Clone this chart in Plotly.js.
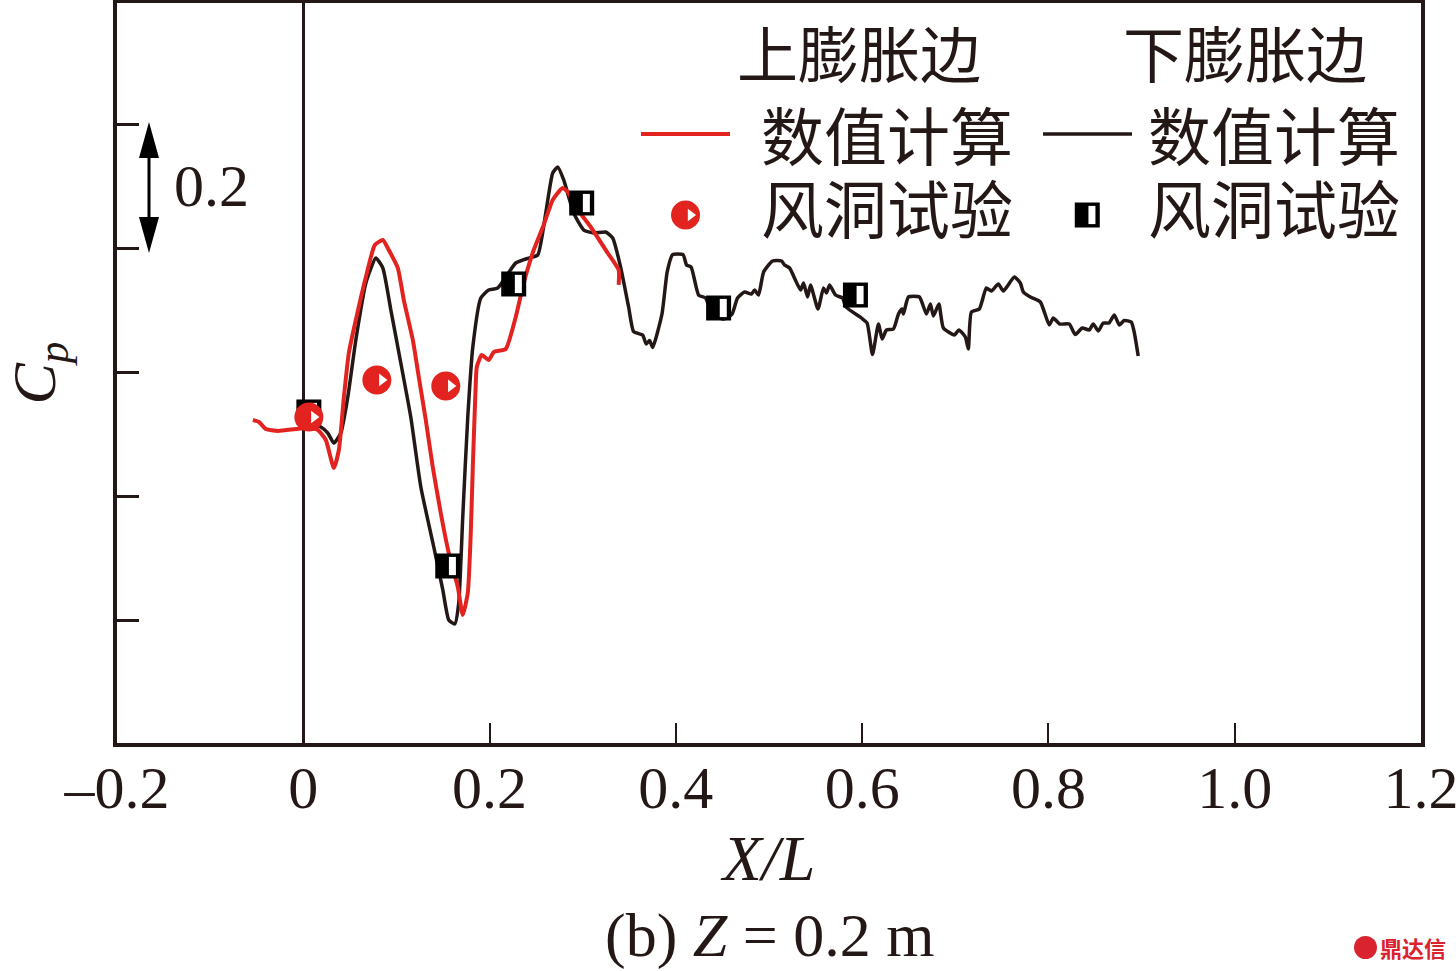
<!DOCTYPE html>
<html><head><meta charset="utf-8">
<script src="https://cdn.plot.ly/plotly-3.0.1.min.js"></script>
<style>html,body{margin:0;padding:0;background:#fff;overflow:hidden}</style>
</head><body><div id="chart" style="width:1456px;height:971px"></div>
<script>
const upperCfdX = [-0.0541,-0.0476,-0.0401,-0.0272,-0.0079,0.0049,0.0157,0.0242,0.0328,0.0382,0.0436,0.0489,0.0564,0.0672,0.0768,0.0854,0.0918,0.1015,0.1079,0.1176,0.1240,0.1315,0.1390,0.1476,0.1562,0.1659,0.1712,0.1766,0.1798,0.1820,0.1852,0.1863,0.1916,0.1991,0.2045,0.2173,0.2281,0.2367,0.2474,0.2581,0.2678,0.2785,0.2850,0.2925,0.3086,0.3268,0.3386,0.3386];
const upperCfdY = [-0.0765,-0.0797,-0.0910,-0.0942,-0.0910,-0.0894,-0.0926,-0.1087,-0.1538,-0.1248,-0.0395,0.0314,0.0846,0.1538,0.2054,0.2134,0.1973,0.1683,0.1168,0.0524,-0.0072,-0.0765,-0.1522,-0.2263,-0.2908,-0.3455,-0.3906,-0.3553,-0.2585,-0.1522,-0.0169,0.0089,0.0282,0.0201,0.0330,0.0379,0.0894,0.1442,0.1973,0.2376,0.2779,0.2972,0.2891,0.2666,0.2344,0.1925,0.1651,0.1410];
const lowerCfdX = [0.0006,0.0103,0.0189,0.0264,0.0328,0.0403,0.0478,0.0564,0.0672,0.0779,0.0854,0.0940,0.1047,0.1154,0.1262,0.1401,0.1498,0.1562,0.1627,0.1669,0.1712,0.1766,0.1820,0.1906,0.1991,0.2088,0.2281,0.2420,0.2517,0.2603,0.2678,0.2732,0.2796,0.2903,0.3011,0.3118,0.3247,0.3322,0.3407,0.3493,0.3547,0.3643,0.3682,0.3718,0.3751,0.3851,0.3907,0.3965,0.4077,0.4115,0.4164,0.4244,0.4319,0.4394,0.4512,0.4603,0.4662,0.4737,0.4812,0.4845,0.4888,0.4942,0.5038,0.5135,0.5167,0.5221,0.5339,0.5371,0.5414,0.5446,0.5526,0.5585,0.5617,0.5650,0.5714,0.5789,0.5826,0.5993,0.6053,0.6111,0.6175,0.6215,0.6261,0.6336,0.6390,0.6428,0.6443,0.6497,0.6615,0.6690,0.6733,0.6765,0.6824,0.6872,0.6990,0.7039,0.7108,0.7140,0.7173,0.7258,0.7333,0.7387,0.7462,0.7516,0.7634,0.7698,0.7731,0.7806,0.7913,0.8009,0.8052,0.8122,0.8224,0.8288,0.8363,0.8438,0.8481,0.8535,0.8589,0.8649,0.8707,0.8761,0.8814,0.8889,0.8921,0.8964];
const lowerCfdY = [-0.0733,-0.0830,-0.0878,-0.0975,-0.1136,-0.0975,-0.0395,0.0524,0.1442,0.1844,0.1683,0.1007,0.0153,-0.0717,-0.1844,-0.2811,-0.3503,-0.3987,-0.4051,-0.3713,-0.2328,-0.0717,0.0411,0.1200,0.1329,0.1361,0.1764,0.1844,0.1893,0.2569,0.3214,0.3311,0.3101,0.2569,0.2295,0.2247,0.2263,0.2167,0.1699,0.1055,0.0657,0.0604,0.0459,0.0515,0.0403,0.0942,0.1619,0.1899,0.1899,0.1732,0.1699,0.1248,0.1200,0.0942,0.0862,0.0942,0.1200,0.1297,0.1264,0.1329,0.1248,0.1619,0.1796,0.1796,0.1732,0.1683,0.1329,0.1442,0.1216,0.1410,0.1023,0.1361,0.1281,0.1410,0.1248,0.1200,0.1055,0.0878,0.0797,0.0290,0.0781,0.0540,0.0685,0.0701,0.0942,0.1023,0.0942,0.1216,0.1216,0.0942,0.1103,0.0910,0.1103,0.0717,0.0604,0.0685,0.0572,0.0379,0.0975,0.1023,0.1361,0.1313,0.1426,0.1313,0.1538,0.1442,0.1297,0.1216,0.1136,0.0765,0.0878,0.0781,0.0781,0.0612,0.0717,0.0685,0.0781,0.0668,0.0797,0.0797,0.0926,0.0765,0.0838,0.0813,0.0652,0.0266];
const upperExpX = [0.006,0.079,0.153];
const upperExpY = [-0.0717,-0.012,-0.0217];
const lowerExpX = [0.006,0.1551,0.2259,0.2989,0.4459,0.5928];
const lowerExpY = [-0.0636,-0.3117,0.1426,0.2730,0.1039,0.1248];
const legendCircleX = [0.4104], legendSquareX = [0.8417], legendKeyY = [0.2537];
const xTickVals = [-0.2,0,0.2,0.4,0.6,0.8,1.0,1.2];
const xTickText = ['\u20130.2','0','0.2','0.4','0.6','0.8','1.0','1.2'];
const yTickVals = [-0.4,-0.2,0,0.2,0.4];

const RED='#e2231f', BLACK='#231815', SERIF='"Liberation Serif", serif', CJK='"Noto Sans CJK SC", sans-serif';
const L=117, W=1304, T=3, B=743;
const fx = p => (p-L)/W, fy = p => (B-p)/(B-T);
const circleX = upperExpX.concat(legendCircleX), circleY = upperExpY.concat(legendKeyY);
const squareX = lowerExpX.concat(legendSquareX), squareY = lowerExpY.concat(legendKeyY);
const shift = (a,d) => a.map(v => v+d);

const traces = [
 {x:lowerCfdX,y:lowerCfdY,mode:'lines',line:{color:BLACK,width:3.5,shape:'spline',smoothing:0.5},name:'下膨胀边 数值计算'},
 {x:upperCfdX,y:upperCfdY,mode:'lines',line:{color:RED,width:4,shape:'spline',smoothing:0.5},name:'上膨胀边 数值计算'},
 {x:squareX,y:squareY,mode:'markers',marker:{symbol:'square',size:25,color:'#000'},name:'下膨胀边 风洞试验'},
 {x:shift(squareX,0.005),y:squareY,mode:'markers',marker:{symbol:'line-ns',size:13,line:{color:'#fff',width:7}},name:'下膨胀边 风洞试验 内'},
 {x:circleX,y:circleY,mode:'markers',marker:{symbol:'circle',size:29,color:RED},name:'上膨胀边 风洞试验'},
 {x:shift(circleX,0.0054),y:circleY,mode:'markers',marker:{symbol:'triangle-right',size:11,color:'#fff'},name:'上膨胀边 风洞试验 内'}
];
const label=(t,px,py,size,font,extra)=>Object.assign({text:t,xref:'paper',yref:'paper',x:fx(px),y:fy(py),xanchor:'center',yanchor:'middle',showarrow:false,font:{family:font,size:size,color:BLACK}},extra||{});
const poly = pts => 'M'+pts.map(p=>fx(p[0])+','+fy(p[1])).join(' L')+' Z';
const layout = {
 width:1456,height:971,showlegend:false,paper_bgcolor:'#fff',plot_bgcolor:'#fff',
 margin:{l:L,r:1456-L-W,t:T,b:971-B,pad:0},
 xaxis:{range:[-0.2,1.2],tickmode:'array',tickvals:xTickVals,ticktext:xTickText,ticks:'inside',ticklen:20,tickwidth:2,tickcolor:BLACK,
   showline:true,mirror:true,linecolor:BLACK,linewidth:3.5,showgrid:false,zeroline:true,zerolinecolor:BLACK,zerolinewidth:3.3,
   tickfont:{family:SERIF,size:60,color:BLACK},ticklabelstandoff:-11,ticklabeloverflow:'allow',
   title:{text:'<i>X/L</i>',font:{family:SERIF,size:64,color:BLACK},standoff:16}},
 yaxis:{range:[-0.5968,0.5952],tickmode:'array',tickvals:yTickVals,ticks:'inside',ticklen:22,tickwidth:3,tickcolor:BLACK,showticklabels:false,
   showline:true,mirror:true,linecolor:BLACK,linewidth:3.5,showgrid:false,zeroline:false,
   title:{text:'<i>C<sub>p</sub></i>',font:{family:SERIF,size:62,color:BLACK},standoff:58}},
 shapes:[
  {type:'line',xref:'paper',yref:'paper',x0:fx(641),x1:fx(730),y0:fy(134),y1:fy(134),line:{color:RED,width:4}},
  {type:'line',xref:'paper',yref:'paper',x0:fx(1043),x1:fx(1132),y0:fy(134),y1:fy(134),line:{color:BLACK,width:3.5}},
  {type:'circle',xref:'paper',yref:'paper',x0:fx(1354),x1:fx(1377),y0:fy(959),y1:fy(936),fillcolor:'#d9232e',line:{width:0}},
  {type:'path',xref:'paper',yref:'paper',path:poly([[149,122],[159,158],[150.5,158],[150.5,217],[159,217],[149,253],[139,217],[147.5,217],[147.5,158],[139,158]]),fillcolor:'#000',line:{width:0}}
 ],
 annotations:[
  label('上膨胀边',859,51,61,CJK),
  label('下膨胀边',1245,51,61,CJK),
  label('数值计算',887,132,63,CJK),
  label('数值计算',1274,132,63,CJK),
  label('风洞试验',887,205,63,CJK),
  label('风洞试验',1274,205,63,CJK),
  label('0.2',211,186,60,SERIF),
  label('(b) <i>Z</i> = 0.2 m',769,936,62,SERIF),
  label('鼎达信',1413,947,22,CJK,{font:{family:CJK,size:22,color:'#d9232e',weight:700}})
 ]
};
Plotly.newPlot('chart',traces,layout,{displayModeBar:false,responsive:false});
</script></body></html>
